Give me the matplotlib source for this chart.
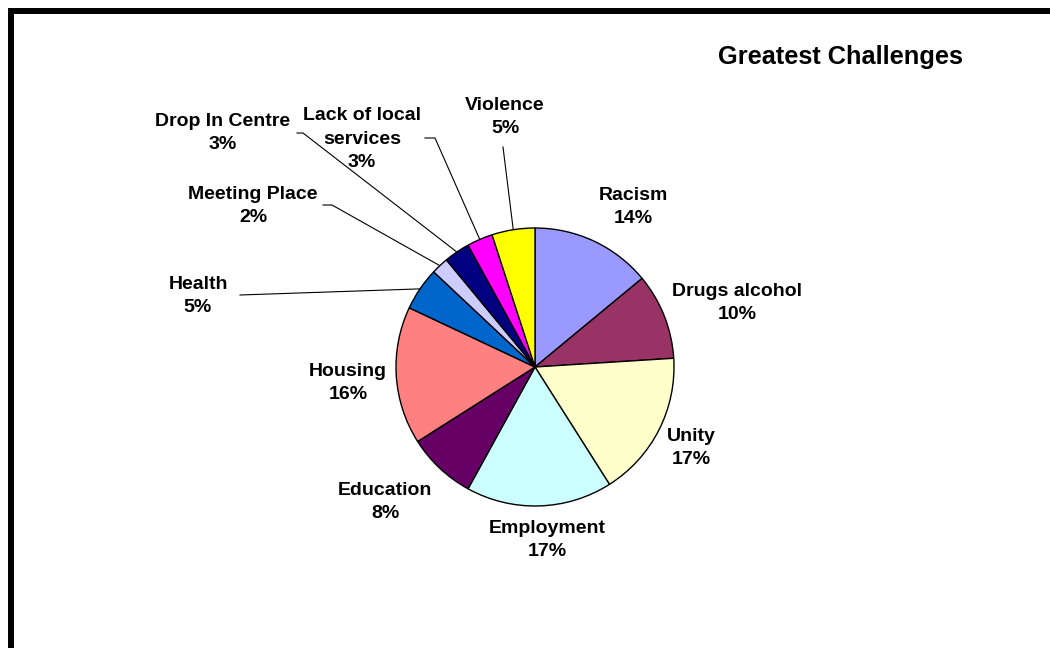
import numpy as np
import matplotlib.pyplot as plt

# share of responses per challenge, clockwise from 12 o'clock
labels = ["Racism", "Drugs alcohol", "Unity", "Employment", "Education", "Housing",
          "Health", "Meeting Place", "Drop In Centre", "Lack of local\nservices", "Violence"]
shares = [14, 10, 17, 17, 8, 16, 5, 2, 3, 3, 5]
colors = ["#9999FF", "#993366", "#FFFFCC", "#CCFFFF", "#660066", "#FF8080",
          "#0066CC", "#CCCCFF", "#000080", "#FF00FF", "#FFFF00"]

W, H = 1050, 648
cx, cy, r = 535, H - 367, 139

# label centre (pixels from top-left) and optional leader start
label_pos = [(633, 207), (737, 303), (691, 448), (547, 540), (385, 502), (348, 383),
             (198, 296), (253, 206), (223, 133), (362, 139), (505, 117)]
leader_start = {6: [(240, 295)], 7: [(323, 205), (332, 205)],
                8: [(297, 133), (303, 133)], 9: [(425, 138), (435, 138)],
                10: [(503, 147)]}

fig = plt.figure(figsize=(W / 100, H / 100), dpi=100)
ax = fig.add_axes([0, 0, 1, 1])

wedges, _ = ax.pie(shares, colors=colors, startangle=90, counterclock=False,
                   center=(cx, cy), radius=r, frame=True,
                   wedgeprops=dict(edgecolor="black", linewidth=1))
ax.set_xlim(0, W)
ax.set_ylim(0, H)
ax.set_aspect("equal")
ax.axis("off")

font = dict(family=["Liberation Sans", "DejaVu Sans"], fontweight="bold",
            fontsize=14, ha="center", va="center", linespacing=1.52)

for i, (lab, val) in enumerate(zip(labels, shares)):
    x, y = label_pos[i]
    ax.text(x, H - y, f"{lab}\n{val}%", **font)
    if i in leader_start:
        w = wedges[i]
        mid = np.deg2rad((w.theta1 + w.theta2) / 2)
        ex, ey = cx + r * np.cos(mid), cy + r * np.sin(mid)
        pts = leader_start[i]
        xs = [p[0] for p in pts] + [ex]
        ys = [H - p[1] for p in pts] + [ey]
        ax.plot(xs, ys, color="black", lw=0.8, zorder=0.5)

ax.text(840, H - 57, "Greatest Challenges", family=["Liberation Sans", "DejaVu Sans"],
        fontweight="bold", fontsize=18.3, ha="center", va="center")

# black frame on top and left
ax.plot([8, W], [H - 11, H - 11], color="black", lw=4.3, solid_capstyle="butt")
ax.plot([11, 11], [H - 8, 0], color="black", lw=4.3, solid_capstyle="butt")

fig.savefig("out.png", dpi=100)
